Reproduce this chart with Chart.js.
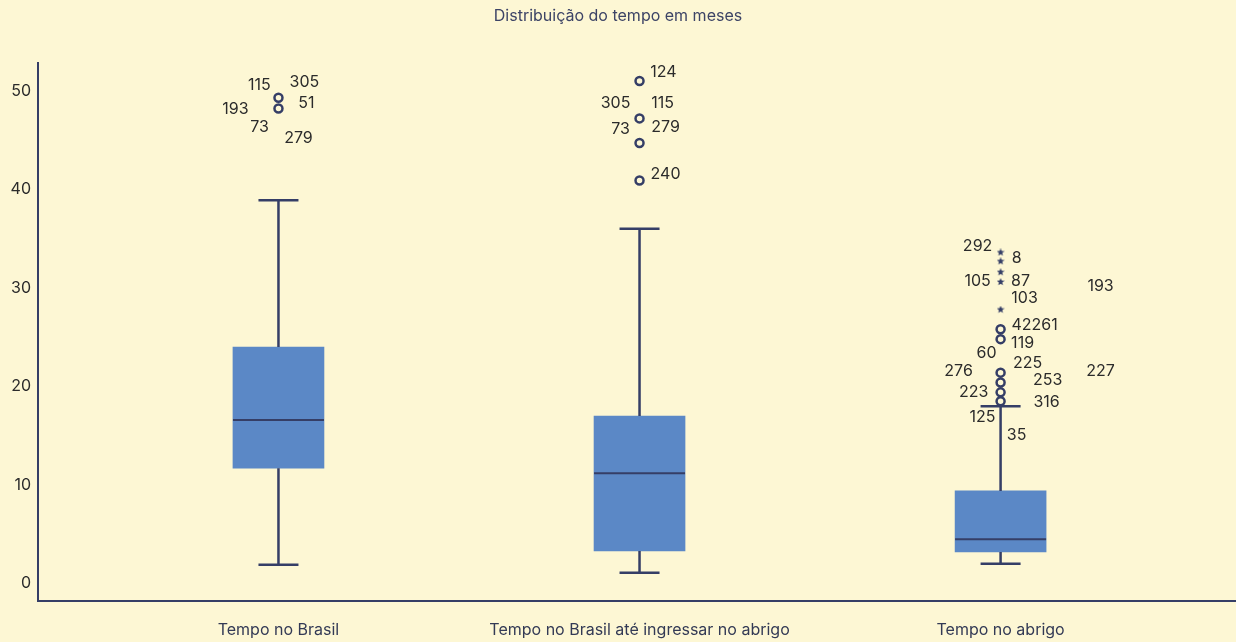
<!doctype html>
<html lang="pt">
<head>
<meta charset="utf-8">
<script src="https://cdn.jsdelivr.net/npm/chart.js"></script>
<style>
  html, body { margin: 0; padding: 0; background: #fdf7d4; overflow: hidden; }
  #wrap { width: 1236px; height: 642px; }
</style>
</head>
<body>
<div id="wrap">
  <canvas id="myChart"></canvas>
</div>

<script>
  // box plot data (months)
  const categories = ['Tempo no Brasil', 'Tempo no Brasil até ingressar no abrigo', 'Tempo no abrigo'];
  const whiskerLow = [1.9, 1.1, 2.0];
  const q1 = [11.7, 3.3, 3.2];
  const median = [16.6, 11.2, 4.5];
  const q3 = [24.0, 17.0, 9.4];
  const whiskerHigh = [38.9, 36.0, 18.0];

  // outliers (circles) and extremes (stars) per box
  const outliers = [
    [49.3, 48.2],
    [51.0, 47.2, 44.7, 40.9],
    [25.8, 24.8, 21.4, 20.4, 19.4, 18.5]
  ];
  const extremes = [
    [],
    [],
    [33.6, 32.7, 31.6, 30.6, 27.8]
  ];

  // case labels: text and value at which it is written
  const caseLabels = [
    ['115', '305', '193', '51', '73', '279'],
    ['124', '305', '115', '73', '279', '240'],
    ['292', '8', '105', '87', '103', '193', '42261', '119', '60', '225', '276', '253', '227', '223', '316', '125', '35']
  ];
  const caseLabelValues = [
    [50.6, 50.9, 48.1, 48.7, 46.3, 45.2],
    [51.9, 48.7, 48.7, 46.1, 46.3, 41.5],
    [34.2, 33.0, 30.7, 30.7, 29.0, 30.2, 26.2, 24.4, 23.4, 22.4, 21.5, 20.6, 21.5, 19.4, 18.4, 16.9, 15.1]
  ];
  // horizontal offset of each label from the box centre (px)
  const caseLabelDx = [
    [-19, 26, -43, 28, -19, 20],
    [24, -24, 23, -19, 26, 26],
    [-23, 16, -23, 20, 24, 100, 34, 22, -14, 27, -42, 47, 100, -27, 46, -18, 16]
  ];

  const yTicks = [0, 10, 20, 30, 40, 50];

  const navy = '#353e66';
  const boxBlue = '#5b88c6';
  const fontFamily = 'Inter, "Noto Sans", sans-serif';

  // small filled star for extremes
  function makeStar(size, color) {
    const c = document.createElement('canvas');
    c.width = size; c.height = size;
    const g = c.getContext('2d');
    const cx = size / 2, cy = size / 2, ro = size / 2, ri = ro * 0.45;
    g.beginPath();
    for (let k = 0; k < 10; k++) {
      const r = k % 2 === 0 ? ro : ri;
      const a = -Math.PI / 2 + k * Math.PI / 5;
      g.lineTo(cx + r * Math.cos(a), cy + r * Math.sin(a));
    }
    g.closePath();
    g.fillStyle = color;
    g.fill();
    return c;
  }
  const starImg = makeStar(8, navy);

  const boxData = categories.map((c, i) => ({ x: i + 1, y: [q1[i], q3[i]] }));
  const outlierData = [];
  outliers.forEach((arr, i) => arr.forEach(v => outlierData.push({ x: i + 1, y: v })));
  const extremeData = [];
  extremes.forEach((arr, i) => arr.forEach(v => extremeData.push({ x: i + 1, y: v })));

  // whiskers, medians and case labels
  const boxExtras = {
    id: 'boxExtras',
    afterDatasetsDraw(chart) {
      const ctx = chart.ctx;
      const xs = chart.scales.x, ys = chart.scales.y;
      const boxW = 91, capW = 40;
      ctx.save();
      ctx.strokeStyle = navy;
      ctx.lineWidth = 2.5;
      categories.forEach((c, i) => {
        const cx = xs.getPixelForValue(i + 1);
        const yLo = ys.getPixelForValue(whiskerLow[i]);
        const yQ1 = ys.getPixelForValue(q1[i]);
        const yQ3 = ys.getPixelForValue(q3[i]);
        const yHi = ys.getPixelForValue(whiskerHigh[i]);
        const yMed = ys.getPixelForValue(median[i]);
        ctx.beginPath();
        ctx.moveTo(cx, yQ3); ctx.lineTo(cx, yHi);
        ctx.moveTo(cx - capW / 2, yHi); ctx.lineTo(cx + capW / 2, yHi);
        ctx.moveTo(cx, yQ1); ctx.lineTo(cx, yLo);
        ctx.moveTo(cx - capW / 2, yLo); ctx.lineTo(cx + capW / 2, yLo);
        ctx.stroke();
        ctx.beginPath();
        ctx.lineWidth = 2;
        ctx.moveTo(cx - boxW / 2, yMed); ctx.lineTo(cx + boxW / 2, yMed);
        ctx.stroke();
        ctx.lineWidth = 2.5;
      });
      ctx.fillStyle = '#2b2b2b';
      ctx.font = '16px ' + fontFamily;
      ctx.textAlign = 'center';
      ctx.textBaseline = 'middle';
      caseLabels.forEach((arr, i) => {
        const cx = xs.getPixelForValue(i + 1);
        arr.forEach((t, k) => {
          ctx.fillText(t, cx + caseLabelDx[i][k], ys.getPixelForValue(caseLabelValues[i][k]));
        });
      });
      ctx.restore();
    }
  };

  const canvas = document.getElementById('myChart');
  const chart = new Chart(canvas, {
    type: 'bar',
    data: {
      datasets: [
        {
          label: 'box',
          data: boxData,
          backgroundColor: boxBlue,
          borderWidth: 0,
          barThickness: 91,
          order: 2
        },
        {
          type: 'scatter',
          label: 'outliers',
          data: outlierData,
          pointStyle: 'circle',
          pointRadius: 4,
          pointBorderWidth: 2.5,
          pointBorderColor: navy,
          pointBackgroundColor: 'rgba(0,0,0,0)',
          order: 1
        },
        {
          type: 'scatter',
          label: 'extremes',
          data: extremeData,
          pointStyle: starImg,
          order: 1
        }
      ]
    },
    options: {
      responsive: true,
      maintainAspectRatio: false,
      animation: false,
      layout: { autoPadding: false, padding: { left: 0, right: 0, top: 0, bottom: 3 } },
      plugins: {
        legend: { display: false },
        tooltip: { enabled: false },
        title: {
          display: true,
          text: 'Distribuição do tempo em meses',
          color: '#3d4466',
          font: { family: fontFamily, size: 16, weight: 'normal' },
          padding: { top: 7, bottom: 37 }
        }
      },
      scales: {
        x: {
          type: 'linear',
          offset: false,
          min: 0.334,
          max: 3.652,
          grid: { display: false, drawTicks: false },
          border: { display: true, color: navy, width: 2 },
          afterBuildTicks: s => { s.ticks = categories.map((c, i) => ({ value: i + 1 })); },
          afterFit: s => { s.height = 38; },
          ticks: {
            padding: 20,
            maxRotation: 0,
            minRotation: 0,
            autoSkip: false,
            color: '#333a55',
            font: { family: fontFamily, size: 16 },
            callback: v => categories[v - 1]
          }
        },
        y: {
          min: -1.77,
          max: 52.8,
          grid: { display: false, drawTicks: false },
          border: { display: true, color: navy, width: 2 },
          afterBuildTicks: s => { s.ticks = yTicks.map(v => ({ value: v })); },
          afterFit: s => { s.width = 38; },
          ticks: {
            padding: 7,
            color: '#2b2b2b',
            font: { family: fontFamily, size: 16 }
          }
        }
      }
    },
    plugins: [boxExtras]
  });
</script>
</body>
</html>
